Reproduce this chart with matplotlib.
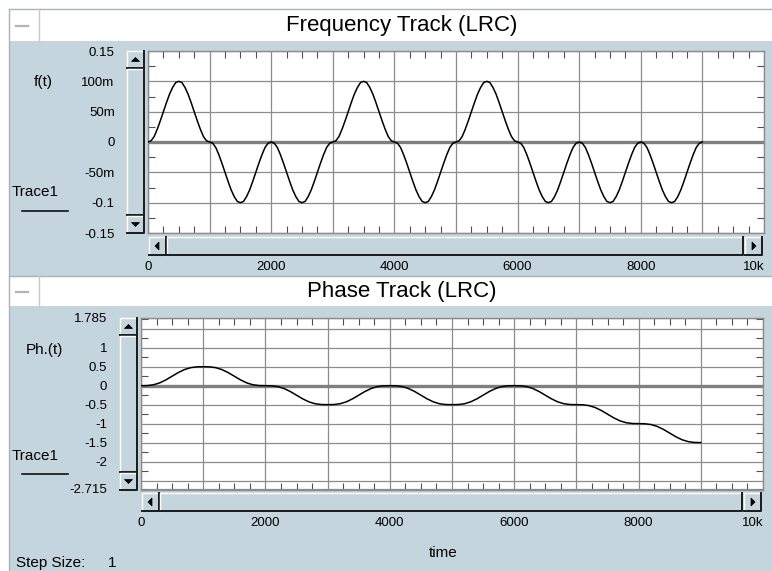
import numpy as np
import matplotlib.pyplot as plt
from matplotlib.patches import Rectangle, Polygon
from matplotlib.ticker import MultipleLocator

# ---- data ----
# frequency track, sampled every 50 time units (one row per 1000-unit symbol)
freq_t = np.arange(0, 9001, 50)
freq = [
    0, 0.002, 0.009, 0.021, 0.035, 0.05, 0.065, 0.079, 0.090, 0.098,
    0.1, 0.098, 0.090, 0.079, 0.065, 0.05, 0.035, 0.021, 0.009, 0.002,
    0, -0.002, -0.009, -0.021, -0.035, -0.05, -0.065, -0.079, -0.090, -0.098,
    -0.1, -0.098, -0.090, -0.079, -0.065, -0.05, -0.035, -0.021, -0.009, -0.002,
    0, -0.002, -0.009, -0.021, -0.035, -0.05, -0.065, -0.079, -0.090, -0.098,
    -0.1, -0.098, -0.090, -0.079, -0.065, -0.05, -0.035, -0.021, -0.009, -0.002,
    0, 0.002, 0.009, 0.021, 0.035, 0.05, 0.065, 0.079, 0.090, 0.098,
    0.1, 0.098, 0.090, 0.079, 0.065, 0.05, 0.035, 0.021, 0.009, 0.002,
    0, -0.002, -0.009, -0.021, -0.035, -0.05, -0.065, -0.079, -0.090, -0.098,
    -0.1, -0.098, -0.090, -0.079, -0.065, -0.05, -0.035, -0.021, -0.009, -0.002,
    0, 0.002, 0.009, 0.021, 0.035, 0.05, 0.065, 0.079, 0.090, 0.098,
    0.1, 0.098, 0.090, 0.079, 0.065, 0.05, 0.035, 0.021, 0.009, 0.002,
    0, -0.002, -0.009, -0.021, -0.035, -0.05, -0.065, -0.079, -0.090, -0.098,
    -0.1, -0.098, -0.090, -0.079, -0.065, -0.05, -0.035, -0.021, -0.009, -0.002,
    0, -0.002, -0.009, -0.021, -0.035, -0.05, -0.065, -0.079, -0.090, -0.098,
    -0.1, -0.098, -0.090, -0.079, -0.065, -0.05, -0.035, -0.021, -0.009, -0.002,
    0, -0.002, -0.009, -0.021, -0.035, -0.05, -0.065, -0.079, -0.090, -0.098,
    -0.1, -0.098, -0.090, -0.079, -0.065, -0.05, -0.035, -0.021, -0.009, -0.002,
    0,
]

# phase track, sampled every 100 time units
phase_t = np.arange(0, 9001, 100)
phase = [
    0, 0.003, 0.024, 0.074, 0.153, 0.25, 0.347, 0.426, 0.476, 0.497,
    0.5, 0.497, 0.476, 0.426, 0.347, 0.25, 0.153, 0.074, 0.024, 0.003,
    0, -0.003, -0.024, -0.074, -0.153, -0.25, -0.347, -0.426, -0.476, -0.497,
    -0.5, -0.497, -0.476, -0.426, -0.347, -0.25, -0.153, -0.074, -0.024, -0.003,
    0, -0.003, -0.024, -0.074, -0.153, -0.25, -0.347, -0.426, -0.476, -0.497,
    -0.5, -0.497, -0.476, -0.426, -0.347, -0.25, -0.153, -0.074, -0.024, -0.003,
    0, -0.003, -0.024, -0.074, -0.153, -0.25, -0.347, -0.426, -0.476, -0.497,
    -0.5, -0.503, -0.524, -0.574, -0.653, -0.75, -0.847, -0.926, -0.976, -0.997,
    -1.0, -1.003, -1.024, -1.074, -1.153, -1.25, -1.347, -1.426, -1.476, -1.497,
    -1.5,
]

x_ticks = [0, 1000, 2000, 3000, 4000, 5000, 6000, 7000, 8000, 9000, 10000]
x_labels = ['0', '', '2000', '', '4000', '', '6000', '', '8000', '', '10k']
f_ticks = [-0.15, -0.1, -0.05, 0, 0.05, 0.1, 0.15]
f_labels = ['-0.15', '-0.1', '-50m', '0', '50m', '100m', '0.15']
p_ticks = [-2.715, -2.5, -2, -1.5, -1, -0.5, 0, 0.5, 1, 1.5, 1.785]
p_labels = ['-2.715', '', '-2', '-1.5', '-1', '-0.5', '0', '0.5', '1', '', '1.785']

W, H = 772, 571
PANEL = '#c5d5dd'
GRID = '#8c8c8c'
plt.rcParams['font.family'] = ['Liberation Sans', 'DejaVu Sans']

fig = plt.figure(figsize=(W / 100, H / 100), dpi=100)
fig.patch.set_facecolor('white')

bg = fig.add_axes([0, 0, 1, 1], zorder=0)
bg.set_xlim(0, W)
bg.set_ylim(H, 0)
bg.axis('off')


def rect(x0, y0, x1, y1, fc, ec='none', lw=0):
    bg.add_patch(Rectangle((x0, y0), x1 - x0, y1 - y0, facecolor=fc,
                           edgecolor=ec, linewidth=lw))


def bevel(x0, y0, x1, y1):
    rect(x0, y0, x1, y1, PANEL)
    bg.plot([x0, x0, x1], [y1, y0, y0], color='white', lw=1)
    bg.plot([x0, x1, x1], [y1, y1, y0], color='#1a1a1a', lw=1.4)


def tri(cx, cy, d):
    s = 4
    pts = {'up': [(cx - s, cy + 2), (cx + s, cy + 2), (cx, cy - 2)],
           'down': [(cx - s, cy - 2), (cx + s, cy - 2), (cx, cy + 2)],
           'left': [(cx + 2, cy - s), (cx + 2, cy + s), (cx - 2, cy)],
           'right': [(cx - 2, cy - s), (cx - 2, cy + s), (cx + 2, cy)]}[d]
    bg.add_patch(Polygon(pts, closed=True, facecolor='black', edgecolor='black', lw=0.5))


def vscroll(x0, y0, x1, y1):
    b = 17
    bevel(x0, y0, x1, y0 + b)
    tri((x0 + x1) / 2, y0 + b / 2, 'up')
    bevel(x0, y0 + b + 1, x1, y1 - b - 1)
    bevel(x0, y1 - b, x1, y1)
    tri((x0 + x1) / 2, y1 - b / 2, 'down')


def hscroll(x0, y0, x1, y1):
    b = 18
    bevel(x0 + 1, y0, x0 + b, y1)
    tri(x0 + b / 2, (y0 + y1) / 2, 'left')
    bevel(x0 + b + 1, y0, x1 - b - 2, y1)
    bevel(x1 - b, y0, x1 - 1, y1)
    tri(x1 - b / 2, (y0 + y1) / 2, 'right')


def panel(y_top, y_bar_end, y_end, title):
    rect(9, y_top, W, y_bar_end, 'white')
    rect(9, y_bar_end, W, y_end, PANEL)
    bg.plot([9, W], [y_top, y_top], color='#a8b4ba', lw=1)
    bg.plot([39, 39], [y_top, y_bar_end], color='#c8c8c8', lw=1)
    bg.plot([16, 28], [(y_top + y_bar_end) / 2 + 1] * 2, color='#b4b4b4', lw=1.6)
    bg.text(402, (y_top + y_bar_end) / 2 + 1, title, ha='center', va='center',
            fontsize=16, color='black')


panel(9, 41, 276, 'Frequency Track (LRC)')
panel(276, 306, H, 'Phase Track (LRC)')
bg.plot([9, 9], [9, H], color='#a8b4ba', lw=1)

vscroll(127, 51, 144, 233)
hscroll(148, 237, 763, 255)
vscroll(120, 318, 137, 490)
hscroll(141, 493, 762, 511)

# left-side labels
bg.text(43, 82, 'f(t)', ha='center', va='center', fontsize=11)
bg.text(35, 192, 'Trace1', ha='center', va='center', fontsize=11)
bg.plot([22, 68], [211, 211], color='black', lw=1.1)
bg.text(44, 350, 'Ph.(t)', ha='center', va='center', fontsize=11)
bg.text(35, 456, 'Trace1', ha='center', va='center', fontsize=11)
bg.plot([22, 68], [474, 474], color='black', lw=1.1)
bg.text(16, 563, 'Step Size:', ha='left', va='center', fontsize=11)
bg.text(112, 563, '1', ha='center', va='center', fontsize=11)
bg.text(443, 553, 'time', ha='center', va='center', fontsize=11)


def px_axes(x0, y0, x1, y1):
    return fig.add_axes([x0 / W, 1 - y1 / H, (x1 - x0) / W, (y1 - y0) / H], zorder=2)


def style(ax, yticks, ylabels, ymin, ymax, ypad, xpad):
    ax.set_facecolor('white')
    ax.set_xlim(0, 10000)
    ax.set_ylim(ymin, ymax)
    ax.set_xticks(x_ticks)
    ax.set_xticklabels(x_labels)
    ax.set_yticks(yticks)
    ax.set_yticklabels(ylabels)
    ax.xaxis.set_minor_locator(MultipleLocator(250))
    ax.tick_params(axis='x', which='major', length=0, pad=xpad, labelsize=9.5)
    ax.tick_params(axis='y', which='major', length=0, pad=ypad, labelsize=9.5)
    ax.grid(which='major', color=GRID, lw=0.9)
    for sp in ax.spines.values():
        sp.set_color(GRID)
        sp.set_linewidth(1)
    # the last label ("10k") sits flush against the window edge
    ax.get_xticklabels()[-1].set_horizontalalignment('right')


def minor_ticks(ax):
    ax.tick_params(which='minor', direction='in', length=5, width=0.8,
                   color='#505050', top=True, bottom=True, left=True, right=True)


ax1 = px_axes(148, 51, 764, 233)
style(ax1, f_ticks, f_labels, -0.15, 0.15, 24, 20)
ax1.yaxis.set_minor_locator(MultipleLocator(0.025))
minor_ticks(ax1)
ax1.axhline(0, color='#7f7f7f', lw=2.4, zorder=2)
ax1.plot(freq_t, freq, color='black', lw=1.1, zorder=3)

ax2 = px_axes(141, 318, 763, 490)
style(ax2, p_ticks, p_labels, -2.715, 1.785, 24.5, 19.5)
ax2.set_yticks(np.arange(-2.75, 1.76, 0.25), minor=True)
minor_ticks(ax2)
ax2.axhline(0, color='#7f7f7f', lw=2.4, zorder=2)
ax2.plot(phase_t, phase, color='black', lw=1.1, zorder=3)

fig.savefig('out.png', dpi=100, facecolor=fig.get_facecolor())
